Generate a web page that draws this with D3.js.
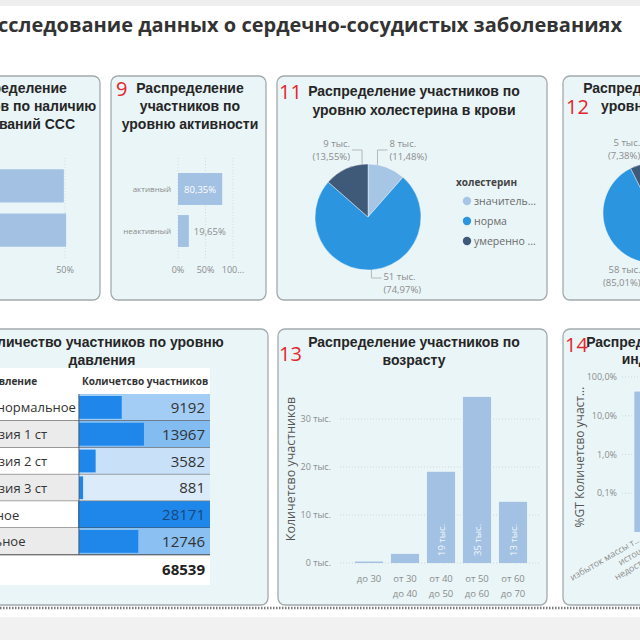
<!DOCTYPE html>
<html><head><meta charset="utf-8">
<script src="https://cdn.jsdelivr.net/npm/d3@7/dist/d3.min.js"></script>
<style>html,body{margin:0;padding:0;background:#fff;overflow:hidden} svg{display:block}</style>
</head><body>
<svg id="chart" width="640" height="640"></svg>
<script>
// ---------- DATA ----------
const pageTitle = "Исследование данных о сердечно-сосудистых заболеваниях";

const cvdTitle = ["Распределение", "участников по наличию", "заболеваний ССС"];
const cvdCategories = ["нет", "есть"];
const cvdShares = [0.4943, 0.5057];
const cvdTicks = [0.5];

const actTitle = ["Распределение", "участников по", "уровню активности"];
const actCategories = ["активный", "неактивный"];
const actShares = [0.8035, 0.1965];
const actTicks = [0, 0.5, 1];

const cholTitle = ["Распределение участников по", "уровню холестерина в крови"];
const cholLegendTitle = "холестерин";
const levelCategories = ["значительно выше нормы", "норма", "умеренно выше нормы"];
const cholCounts = [7868, 51384, 9287];

const glucTitle = ["Распределение участников по", "уровню глюкозы в крови"];
const glucCounts = [5216, 58265, 5058];

const presTitle = ["Количество участников по уровню", "давления"];
const presHeader = ["Давление", "Количетсво участников"];
const presCategories = ["высокое нормальное", "гипертензия 1 ст", "гипертензия 2 ст", "гипертензия 3 ст", "нормальное", "оптимальное"];
const presCounts = [9192, 13967, 3582, 881, 28171, 12746];
const presTotalLabel = "Итого";

const ageTitle = ["Распределение участников по", "возрасту"];
const ageAxisTitle = "Количетсво участников";
const ageCategories = ["до 30", "от 30 до 40", "от 40 до 50", "от 50 до 60", "от 60 до 70"];
const ageCounts = [300, 1900, 19000, 34600, 12739];
const ageTicks = [0, 10000, 20000, 30000];

const bmiTitle = ["Распределение участников по", "индексу массы тела"];
const bmiAxisTitle = "%GT Количетсво участников";
const bmiCategories = ["избыток массы тела", "истощение", "недостаток массы тела", "норма", "ожирение"];
const bmiShares = [0.42, 0.0015, 0.009, 0.37, 0.2];
const bmiTicks = [1, 0.1, 0.01, 0.001];

const panelNumbers = ["9", "11", "12", "13", "14"];

// ---------- STYLE ----------
const C = {
  panelFill: "#e9f5f7", panelStroke: "#a3aaad", bar: "#a2c1e3",
  pie: ["#a7c6e6", "#2b95e0", "#3e5a78"], tableBar: "#1e87e9",
  red: "#e3262b", title: "#262626", axis: "#8c8c8c"
};
const SANS = "'Open Sans', 'Noto Sans', sans-serif";
const ARIAL = "'Liberation Sans', Arial, sans-serif";

const ru = d3.formatLocale({decimal: ",", thousands: "\u00a0", grouping: [3], currency: ["", " ₽"]});
const pct2 = v => ru.format(".2f")(v * 100) + "%";
const pct1 = v => ru.format(".1f")(v * 100) + "%";
const pct0 = v => ru.format(".0f")(v * 100) + "%";
const tys = v => Math.round(v / 1000) + " тыс.";
const trunc = (s, n) => s.length > n ? s.slice(0, n) + "..." : s;

const svg = d3.select("#chart");

// page chrome
svg.append("rect").attr("x", 0).attr("y", 0).attr("width", 640).attr("height", 640).attr("fill", "#fff");
svg.append("rect").attr("x", 0).attr("y", 0).attr("width", 640).attr("height", 6).attr("fill", "#eeeeee");
svg.append("rect").attr("x", 0).attr("y", 617).attr("width", 640).attr("height", 23).attr("fill", "#f1f1f1");
svg.append("line").attr("x1", 0).attr("x2", 640).attr("y1", 608).attr("y2", 608)
  .attr("stroke", "#7a7a7a").attr("stroke-width", 2.5).attr("stroke-dasharray", "1.5,1.5");

svg.append("text").attr("x", 622).attr("y", 32).attr("text-anchor", "end")
  .attr("font-family", SANS).attr("font-weight", 700).attr("font-size", 20).attr("fill", "#333")
  .text(pageTitle);

function panel(x, y, w, h) {
  svg.append("rect").attr("x", x).attr("y", y).attr("width", w).attr("height", h).attr("rx", 7)
    .attr("fill", C.panelFill).attr("stroke", C.panelStroke).attr("stroke-width", 1.3);
}
function title(lines, cx, y0, dy) {
  lines.forEach((t, i) => svg.append("text").attr("x", cx).attr("y", y0 + i * dy)
    .attr("text-anchor", "middle").attr("font-family", ARIAL).attr("font-weight", "bold")
    .attr("font-size", 14).attr("fill", C.title).text(t));
}
function redNum(t, x, y) {
  svg.append("text").attr("x", x).attr("y", y).attr("font-family", SANS).attr("font-size", 20)
    .attr("fill", C.red).text(t);
}
function small(g, t, x, y, anchor, size, fill) {
  return g.append("text").attr("x", x).attr("y", y).attr("text-anchor", anchor || "start")
    .attr("font-family", SANS).attr("font-size", size || 9).attr("fill", fill || C.axis).text(t);
}

// panels
panel(-20, 76, 120, 224);
panel(111, 76, 155, 224);
panel(277, 76, 270, 224);
panel(563, 76, 140, 224);
panel(-20, 329, 288, 276);
panel(278, 329, 269, 276);
panel(563, 329, 140, 276);

// ---------- A: CVD presence ----------
{
  const g = svg.append("g");
  title(cvdTitle, 13, 93, 18);
  const x = d3.scaleLinear().domain([0, 0.5]).range([-35, 65]);
  const y = d3.scaleBand().domain(cvdCategories).range([164, 252]).paddingInner(0.25).paddingOuter(0.12);
  cvdTicks.forEach(t => {
    g.append("line").attr("x1", x(t)).attr("x2", x(t)).attr("y1", 158).attr("y2", 258)
      .attr("stroke", "#d3dde0").attr("stroke-dasharray", "1,2");
    small(g, pct0(t), x(t), 273, "middle");
  });
  g.selectAll("rect.b").data(cvdShares).join("rect").attr("x", x(0)).attr("y", (d, i) => y(cvdCategories[i]))
    .attr("width", d => x(d) - x(0)).attr("height", y.bandwidth()).attr("fill", C.bar);
}

// ---------- B: activity ----------
{
  const g = svg.append("g");
  redNum(panelNumbers[0], 116, 96);
  title(actTitle, 190, 93, 18);
  const x = d3.scaleLinear().domain([0, 1]).range([178, 233]);
  const y = d3.scaleBand().domain(actCategories).range([168, 252]).paddingInner(0.24).paddingOuter(0.12);
  actTicks.forEach(t => {
    g.append("line").attr("x1", x(t)).attr("x2", x(t)).attr("y1", 158).attr("y2", 258)
      .attr("stroke", "#d3dde0").attr("stroke-dasharray", "1,2");
    small(g, trunc(pct0(t), 3), x(t), 273, "middle");
  });
  actCategories.forEach((c, i) => small(g, c, 171, y(c) + y.bandwidth() / 2 + 3, "end", 8));
  g.selectAll("rect.b").data(actShares).join("rect").attr("x", x(0)).attr("y", (d, i) => y(actCategories[i]))
    .attr("width", d => x(d) - x(0)).attr("height", y.bandwidth()).attr("fill", C.bar);
  actShares.forEach((v, i) => {
    const w = x(v) - x(0);
    const inside = w > 35;
    small(g, pct2(v), inside ? x(0) + w / 2 : x(v) + 5, y(actCategories[i]) + y.bandwidth() / 2 + 3.5,
      inside ? "middle" : "start", 9.5, inside ? "#fff" : "#8c8c8c");
  });
}

// ---------- pie helper ----------
function pieChart(counts, cx, cy, r) {
  const g = svg.append("g");
  const total = d3.sum(counts);
  const arcs = d3.pie().sort(null).value(d => d)(counts);
  const arc = d3.arc().innerRadius(0).outerRadius(r);
  g.selectAll("path").data(arcs).join("path").attr("d", arc)
    .attr("transform", `translate(${cx},${cy})`)
    .attr("fill", (d, i) => C.pie[i]).attr("stroke", "#fff").attr("stroke-width", 0.4);
  arcs.forEach((a, i) => {
    const m = (a.startAngle + a.endAngle) / 2;
    const side = Math.sin(m) > 0 ? 1 : -1;
    const top = Math.cos(m) > 0;
    const edge = top ? (side > 0 ? a.startAngle : a.endAngle) : m;
    const la = top ? (m + edge) / 2 + (side < 0 ? 0.1 : 0) : m;
    const sx = cx + r * Math.sin(la), sy = cy - r * Math.cos(la);
    const ey = top ? cy - r - 14 : cy + r + 8;
    const hx = sx + side * 10;
    g.append("path").attr("d", `M${sx},${sy}L${sx},${ey}L${hx},${ey}`)
      .attr("fill", "none").attr("stroke", "#a8a8a8").attr("stroke-width", 0.8);
    const off = top ? [-3.5, 9.5] : [1.5, 14.5];
    const anchor = side > 0 ? "start" : "end";
    small(g, tys(counts[i]), hx + side * 2, ey + off[0], anchor, 9.5);
    small(g, "(" + pct2(counts[i] / total) + ")", hx + side * 2, ey + off[1], anchor, 9.5);
  });
  return g;
}

// ---------- C: cholesterol ----------
{
  redNum(panelNumbers[1], 279, 99);
  title(cholTitle, 414, 96, 19);
  pieChart(cholCounts, 368, 217, 53);
  const g = svg.append("g");
  g.append("text").attr("x", 456).attr("y", 186).attr("font-family", SANS).attr("font-weight", 700)
    .attr("font-size", 10).attr("fill", "#444").text(cholLegendTitle);
  levelCategories.forEach((c, i) => {
    const yy = 201 + i * 20;
    g.append("circle").attr("cx", 467).attr("cy", yy).attr("r", 4.2).attr("fill", C.pie[i]);
    small(g, trunc(c, 9), 474, yy + 3.5, "start", 10.5, "#6a6a6a");
  });
}

// ---------- D: glucose ----------
{
  redNum(panelNumbers[2], 566, 114);
  title(glucTitle, 689, 93, 18);
  pieChart(glucCounts, 653, 213, 50);
}

// ---------- E: pressure table ----------
{
  const g = svg.append("g");
  title(presTitle, 102, 347, 18);
  const labX = -60, valX0 = 78, valX1 = 210, top = 394, rowH = 26.8;
  g.append("rect").attr("x", -20).attr("y", 368).attr("width", valX1 + 20).attr("height", 217).attr("fill", "#fff");
  g.append("text").attr("x", -15).attr("y", 385).attr("font-family", SANS).attr("font-weight", 700)
    .attr("font-size", 10).attr("fill", "#333").text(presHeader[0]);
  g.append("text").attr("x", 82).attr("y", 385).attr("font-family", SANS).attr("font-weight", 700)
    .attr("font-size", 10).attr("fill", "#333").text(presHeader[1]);
  const max = d3.max(presCounts);
  const bg = d3.scaleLinear().domain([d3.min(presCounts), max]).range(["#dcebfa", "#2088e8"]);
  const bx = d3.scaleLinear().domain([0, max]).range([valX0 + 1, valX1]);
  presCategories.forEach((c, i) => {
    const y0 = top + i * rowH;
    g.append("rect").attr("x", -20).attr("y", y0).attr("width", valX0 + 20).attr("height", rowH)
      .attr("fill", i % 2 ? "#ebebeb" : "#fff");
    g.append("rect").attr("x", valX0).attr("y", y0).attr("width", valX1 - valX0).attr("height", rowH)
      .attr("fill", bg(presCounts[i]));
    g.append("rect").attr("x", bx(0)).attr("y", y0 + 2).attr("width", bx(presCounts[i]) - bx(0))
      .attr("height", rowH - 4).attr("fill", C.tableBar);
    g.append("text").attr("x", labX).attr("y", y0 + rowH / 2 + 5).attr("font-family", SANS)
      .attr("font-size", 13).attr("fill", "#333").text(c);
    g.append("text").attr("x", 205).attr("y", y0 + rowH / 2 + 5.5).attr("text-anchor", "end")
      .attr("font-family", SANS).attr("font-size", 15)
      .attr("fill", presCounts[i] === max ? "#17477e" : "#333").text(presCounts[i]);
    g.append("line").attr("x1", -20).attr("x2", valX1).attr("y1", y0 + rowH).attr("y2", y0 + rowH)
      .attr("stroke", "#444").attr("stroke-width", 1);
  });
  g.append("line").attr("x1", valX0 + 1).attr("x2", valX0 + 1).attr("y1", top).attr("y2", top + rowH * presCategories.length)
    .attr("stroke", "#555").attr("stroke-width", 0.8);
  const yT = top + presCategories.length * rowH;
  g.append("text").attr("x", labX).attr("y", yT + 19).attr("font-family", SANS).attr("font-weight", 700)
    .attr("font-size", 13).attr("fill", "#222").text(presTotalLabel);
  g.append("text").attr("x", 205).attr("y", yT + 20).attr("text-anchor", "end").attr("font-family", SANS)
    .attr("font-weight", 700).attr("font-size", 15).attr("fill", "#222").text(d3.sum(presCounts));
}

// ---------- F: age ----------
{
  const g = svg.append("g");
  redNum(panelNumbers[3], 279, 361);
  title(ageTitle, 414, 347, 18);
  const y = d3.scaleLinear().domain([0, 30000]).range([563, 419]);
  const x = d3.scaleBand().domain(ageCategories).range([351, 531]).paddingInner(0.22).paddingOuter(0.11);
  ageTicks.forEach(t => {
    g.append("line").attr("x1", 340).attr("x2", 540).attr("y1", y(t)).attr("y2", y(t))
      .attr("stroke", "#cfd8db").attr("stroke-dasharray", "1,2");
    small(g, (t / 1000) + " тыс.", 331, y(t) + 3, "end", 9);
  });
  g.append("text").attr("transform", `translate(295,469) rotate(-90)`).attr("text-anchor", "middle")
    .attr("font-family", SANS).attr("font-size", 12.5).attr("fill", "#555").text(ageAxisTitle);
  g.selectAll("rect.b").data(ageCounts).join("rect").attr("x", (d, i) => x(ageCategories[i]))
    .attr("y", d => y(d)).attr("width", x.bandwidth()).attr("height", d => y(0) - y(d)).attr("fill", C.bar);
  ageCounts.forEach((v, i) => {
    const cxp = x(ageCategories[i]) + x.bandwidth() / 2;
    if (y(0) - y(v) > 40) {
      g.append("text").attr("transform", `translate(${cxp + 3.5},${y(0) - 7}) rotate(-90)`)
        .attr("font-family", SANS).attr("font-size", 9.5).attr("fill", "#f4f7fb").text(tys(v));
    }
    const parts = ageCategories[i].split(/ (?=до)/);
    parts.forEach((p, j) => small(g, p, cxp, 582 + j * 14.5, "middle", 9.5));
  });
}

// ---------- G: BMI ----------
{
  const g = svg.append("g");
  title(bmiTitle, 692, 347, 17);
  redNum(panelNumbers[4], 565, 352);
  const y = d3.scaleLog().domain([0.0001, 1]).range([532, 377]);
  const x = d3.scaleBand().domain(bmiCategories).range([630, 740]).paddingInner(0.35).paddingOuter(0.2);
  bmiTicks.forEach(t => {
    g.append("line").attr("x1", 622).attr("x2", 740).attr("y1", y(t)).attr("y2", y(t))
      .attr("stroke", "#cfd8db").attr("stroke-dasharray", "1,2");
    small(g, pct1(t), 617, y(t) + 3, "end", 9);
  });
  g.append("text").attr("transform", `translate(584,457) rotate(-90)`).attr("text-anchor", "middle")
    .attr("font-family", SANS).attr("font-size", 12).attr("fill", "#555").text(trunc(bmiAxisTitle, 20));
  g.selectAll("rect.b").data(bmiShares).join("rect").attr("x", (d, i) => x(bmiCategories[i]))
    .attr("y", d => y(d)).attr("width", x.bandwidth()).attr("height", d => y(0.0001) - y(d)).attr("fill", C.bar);
  bmiCategories.forEach((c, i) => {
    const cxp = x(c) + x.bandwidth() / 2;
    g.append("text").attr("transform", `translate(${cxp},${541}) rotate(-30)`).attr("text-anchor", "end")
      .attr("font-family", SANS).attr("font-size", 9).attr("fill", C.axis).text(trunc(c, 15));
  });
}
</script>
</body></html>
